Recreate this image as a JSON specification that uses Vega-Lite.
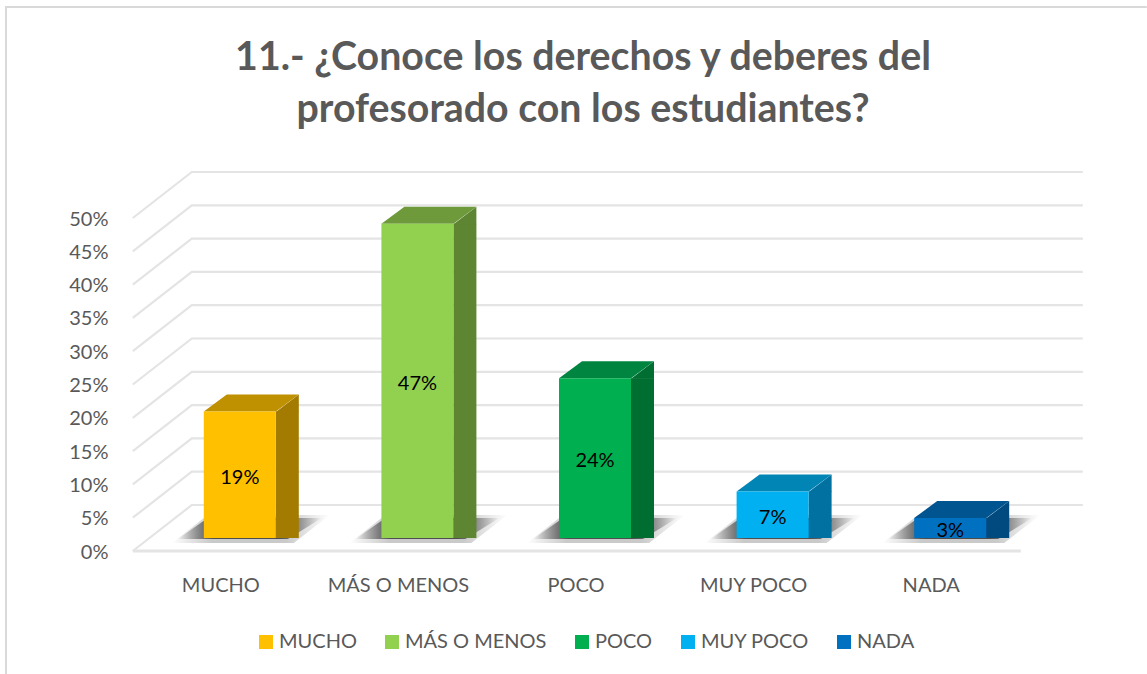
{
"$schema":"https://vega.github.io/schema/vega-lite/v6.json",
"width":888,"height":333,
"autosize":{"type":"none"},
"padding":{"left":132,"top":218,"right":127,"bottom":123},
"background":"#ffffff",
"title":{"text":["11.- ¿Conoce los derechos y deberes del","profesorado con los estudiantes?"],"font":"Lato","fontSize":39.3,"fontWeight":"bold","color":"#595959","lineHeight":52,"anchor":"middle","frame":"group","dx":7,"offset":-127},
"config":{"view":{"stroke":null},"font":"Lato",
"axisX":{"domain":false,"ticks":false,"grid":false,"labelAngle":0,"labelFont":"Lato","labelFontSize":20,"labelColor":"#595959","labelPadding":24},
"axisY":{"domain":false,"ticks":false,"grid":false,"labelFont":"Lato","labelFontSize":20,"labelColor":"#595959","labelPadding":24,"labelOffset":1,"tickCount":11,"format":".0%"}},
"datasets":{
"bars":[{"cat":"MUCHO","v":0.19},{"cat":"MÁS O MENOS","v":0.472},{"cat":"POCO","v":0.24},{"cat":"MUY POCO","v":0.07},{"cat":"NADA","v":0.03}],
"ticks":[{"t":0,"cat":"MUCHO"},{"t":0.05,"cat":"MUCHO"},{"t":0.1,"cat":"MUCHO"},{"t":0.15,"cat":"MUCHO"},{"t":0.2,"cat":"MUCHO"},{"t":0.25,"cat":"MUCHO"},{"t":0.3,"cat":"MUCHO"},{"t":0.35,"cat":"MUCHO"},{"t":0.4,"cat":"MUCHO"},{"t":0.45,"cat":"MUCHO"},{"t":0.5,"cat":"MUCHO"}],
"zero":[{"t":0,"cat":"MUCHO"}]
},
"data":{"name":"bars"},
"resolve":{"scale":{"color":"independent"}},
"encoding":{"x":{"field":"cat","type":"nominal","title":null,"scale":{"domain":["MUCHO","MÁS O MENOS","POCO","MUY POCO","NADA"],"paddingInner":0,"paddingOuter":0}}},
"layer":[
{"data":{"name":"zero"},
 "mark":{"type":"point","shape":"M-214.8 123 L-214.8 -544 L926 -544","size":4,"filled":false,"stroke":"#D9D9D9","strokeWidth":2,"opacity":1,"clip":false},
 "encoding":{"y":{"field":"t","type":"quantitative","title":null,"scale":{"domain":[0,0.5],"nice":false}}}},
{"data":{"name":"ticks"},
 "mark":{"type":"point","shape":"M-88 0 L-29 -46 L862 -46","size":4,"filled":false,"stroke":"#E4E4E4","strokeWidth":2.2,"opacity":1},
 "encoding":{"y":{"field":"t","type":"quantitative","title":null}}},
{"data":{"name":"zero"},
 "mark":{"type":"point","shape":"M-88 0 L800 0","size":4,"filled":false,"stroke":"#E4E4E4","strokeWidth":3,"opacity":1},
 "encoding":{"y":{"field":"t","type":"quantitative","title":null}}},
{"mark":{"type":"point","shape":"M-68 5 L-32 -23 L90 -23 L54 5 Z","size":4,"filled":true,"opacity":0.3,"strokeWidth":0,"xOffset":19,"yOffset":-13,
 "fill":{"gradient":"linear","x1":0,"y1":0,"x2":1,"y2":0,"stops":[{"offset":0,"color":"rgba(70,70,70,0)"},{"offset":0.25,"color":"#4d4d4d"},{"offset":0.72,"color":"#4d4d4d"},{"offset":1,"color":"rgba(70,70,70,0)"}]}},
 "encoding":{"y":{"datum":0,"type":"quantitative","title":null}}},
{"mark":{"type":"point","shape":"M-62 1 L-32 -20 L82 -20 L48 1 Z","size":4,"filled":true,"opacity":1,"strokeWidth":0,"xOffset":19,"yOffset":-13,
 "fill":{"gradient":"linear","x1":0,"y1":0,"x2":1,"y2":0,"stops":[{"offset":0,"color":"rgba(70,70,70,0)"},{"offset":0.25,"color":"#4d4d4d"},{"offset":0.7,"color":"#4d4d4d"},{"offset":1,"color":"rgba(70,70,70,0)"}]}},
 "encoding":{"y":{"datum":0,"type":"quantitative","title":null}}},
{"mark":{"type":"bar","size":23,"xOffset":66.5,"yOffset":-13,"y2Offset":-30},
 "encoding":{"y":{"field":"v","type":"quantitative","title":null},
 "color":{"field":"cat","type":"nominal","legend":null,"scale":{"domain":["MUCHO","MÁS O MENOS","POCO","MUY POCO","NADA"],"range":["#A37B00","#5E8532","#006D31","#0071A0","#004A80"]}}}},
{"mark":{"type":"point","shape":"M36 0.5 L59 0.5 L59 -17 Z","size":4,"filled":true,"opacity":1,"xOffset":19,"yOffset":-13},
 "encoding":{"y":{"field":"v","type":"quantitative","title":null},
 "color":{"field":"cat","type":"nominal","legend":null,"scale":{"domain":["MUCHO","MÁS O MENOS","POCO","MUY POCO","NADA"],"range":["#A37B00","#5E8532","#006D31","#0071A0","#004A80"]}}}},
{"mark":{"type":"point","shape":"M35 0 L35 -18 L59 -18 L59 -17 Z","size":4,"filled":true,"opacity":1,"xOffset":19,"yOffset":-13},
 "encoding":{"y":{"datum":0,"type":"quantitative","title":null},
 "color":{"field":"cat","type":"nominal","legend":null,"scale":{"domain":["MUCHO","MÁS O MENOS","POCO","MUY POCO","NADA"],"range":["#A37B00","#5E8532","#006D31","#0071A0","#004A80"]}}}},
{"mark":{"type":"point","shape":"M-36 0 L36 0 L59 -17 L-13 -17 Z","size":4,"filled":true,"opacity":1,"xOffset":19,"yOffset":-13},
 "encoding":{"y":{"field":"v","type":"quantitative","title":null},
 "color":{"field":"cat","type":"nominal","legend":null,"scale":{"domain":["MUCHO","MÁS O MENOS","POCO","MUY POCO","NADA"],"range":["#BF9000","#6E9A3C","#008540","#0085B5","#005590"]}}}},
{"mark":{"type":"bar","size":72,"xOffset":19,"yOffset":-13,"y2Offset":-13},
 "encoding":{"y":{"field":"v","type":"quantitative","title":null},
 "color":{"field":"cat","type":"nominal","scale":{"domain":["MUCHO","MÁS O MENOS","POCO","MUY POCO","NADA"],"range":["#FFC000","#92D050","#00B050","#00B0F0","#0070C0"]},
 "legend":{"title":null,"orient":"none","legendX":124,"legendY":414,"direction":"horizontal","columns":5,"symbolType":"square","symbolSize":196,"symbolStrokeWidth":0,"labelFont":"Lato","labelFontSize":20,"labelColor":"#595959","labelOffset":3,"columnPadding":25,"gridAlign":"none","labelLimit":300}}}},
{"transform":[{"calculate":"datum.v/2","as":"mid"}],
 "mark":{"type":"text","xOffset":19,"yOffset":-10,"font":"Lato","fontSize":20,"color":"#000000"},
 "encoding":{"y":{"field":"mid","type":"quantitative","title":null},"text":{"field":"v","type":"quantitative","format":".0%"}}}
]
}
